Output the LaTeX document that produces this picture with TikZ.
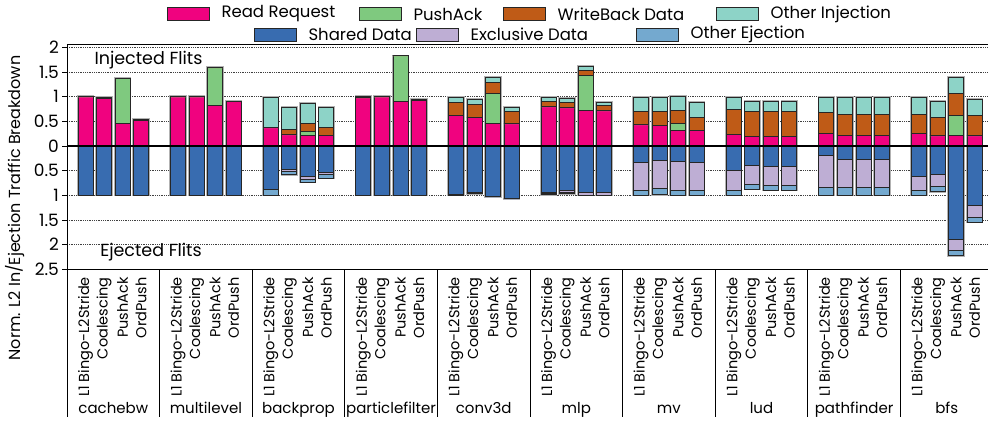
\documentclass[tikz,border=0pt]{standalone}
\usepackage{fontspec}
\setmainfont{Poppins}
\usepackage{tikz}
\usetikzlibrary{positioning}
\usepackage{xcolor}
\definecolor{rrpink}{RGB}{240,2,127}
\definecolor{pagreen}{RGB}{127,201,127}
\definecolor{wborange}{RGB}{191,91,23}
\definecolor{oiteal}{RGB}{141,211,199}
\definecolor{sdblue}{RGB}{56,108,176}
\definecolor{edlilac}{RGB}{190,174,212}
\definecolor{oeblue}{RGB}{116,169,207}
\tikzstyle{bar} = [line width=0.7pt, draw=black!85]
\tikzstyle{halo} = [line width=2.4pt, draw=black!30]
\tikzstyle{gridline} = [densely dotted, line width=0.8pt, color=black!75]
\tikzstyle{legbox} = [rectangle, minimum width=42pt, minimum height=13pt, inner sep=0pt, draw=black!85, line width=0.7pt]
\tikzstyle{legtext} = [inner sep=0pt, anchor=west, font=\fontsize{16.5}{18}\selectfont]
\tikzstyle{ticklabel} = [inner sep=0pt, anchor=east, font=\fontsize{17}{19}\selectfont]
\tikzstyle{barlabel} = [inner sep=0pt, anchor=east, rotate=90, font=\fontsize{14.5}{16}\selectfont]
\tikzstyle{catlabel} = [inner sep=0pt, anchor=base, font=\fontsize{15}{17}\selectfont]

\begin{document}
\begin{tikzpicture}[x=1pt, y=-1pt]
\useasboundingbox (0,0) rectangle (988,422);

% Legend
\node (kRR) [legbox, fill=rrpink] at (188,14) {};
\node (tRR) [legtext, right=12pt of kRR] {Read Request};
\node (kPA) [legbox, fill=pagreen] at (380,14) {};
\node (tPA) [legtext, right=12pt of kPA] {PushAck};
\node (kWB) [legbox, fill=wborange] at (524,14) {};
\node (tWB) [legtext, right=12pt of kWB] {WriteBack Data};
\node (kOI) [legbox, fill=oiteal] at (737,14) {};
\node (tOI) [legtext, right=12pt of kOI] {Other Injection};
\node (kSD) [legbox, fill=sdblue] at (275,34.5) {};
\node (tSD) [legtext, right=12pt of kSD] {Shared Data};
\node (kED) [legbox, fill=edlilac] at (437,34.5) {};
\node (tED) [legtext, right=12pt of kED] {Exclusive Data};
\node (kOE) [legbox, fill=oeblue] at (657,34.5) {};
\node (tOE) [legtext, right=12pt of kOE] {Other Ejection};

% Axis title
\node (ytitle) [inner sep=0pt, rotate=90, font=\fontsize{16}{18}\selectfont] at (15,208) {Norm. L2 In/Ejection Traffic Breakdown};

\begin{scope}[shift={(0,146)}, y=49.3pt]
% Grid and ticks
\foreach \v in {-2,-1.5,-1,-0.5,0.5,1,1.5,2}
  \draw[gridline] (67,\v) -- (994,\v);
\foreach \v/\t in {2/2,1.5/1.5,1/1,0.5/0.5,0/0,-0.5/0.5,-1/1,-1.5/1.5,-2/2,-2.5/2.5} {
  \draw[line width=0.8pt] (62,\v) -- (67,\v);
  \node[ticklabel] at (59,\v) {\t};
}

% Stacked bars: group/bar/cumulative RR/PA/WB/OI up, SD/ED/OE down
\foreach \g/\b/\rr/\pa/\wb/\oi/\sd/\ed/\oe in {
  0/0/1.00/1.00/1.00/1.00/1.00/1.00/1.00, 0/1/0.97/0.97/0.97/0.98/1.00/1.00/1.00,
  0/2/0.46/1.37/1.37/1.38/1.00/1.00/1.00, 0/3/0.53/0.53/0.53/0.54/1.00/1.00/1.00,
  1/0/1.00/1.00/1.00/1.00/1.00/1.00/1.00, 1/1/1.00/1.00/1.00/1.00/1.00/1.00/1.00,
  1/2/0.83/1.59/1.59/1.59/1.00/1.00/1.00, 1/3/0.91/0.91/0.91/0.91/1.00/1.00/1.00,
  2/0/0.37/0.37/0.38/0.99/0.88/0.88/1.00, 2/1/0.23/0.23/0.34/0.78/0.48/0.52/0.58,
  2/2/0.22/0.30/0.45/0.86/0.61/0.67/0.73, 2/3/0.22/0.22/0.37/0.79/0.53/0.58/0.65,
  3/0/0.98/0.98/0.98/1.00/1.00/1.00/1.00, 3/1/1.00/1.00/1.00/1.00/1.00/1.00/1.00,
  3/2/0.91/1.83/1.83/1.83/1.00/1.00/1.00, 3/3/0.93/0.93/0.93/0.95/1.00/1.00/1.00,
  4/0/0.62/0.62/0.89/0.99/0.98/0.98/1.00, 4/1/0.59/0.59/0.84/0.95/0.95/0.95/0.97,
  4/2/0.46/1.07/1.30/1.39/1.03/1.03/1.03, 4/3/0.45/0.45/0.71/0.79/1.07/1.07/1.07,
  5/0/0.80/0.80/0.91/0.99/0.94/0.97/0.99, 5/1/0.78/0.78/0.89/0.96/0.90/0.95/0.97,
  5/2/0.72/1.43/1.53/1.61/0.95/1.00/1.00, 5/3/0.72/0.72/0.82/0.89/0.95/1.00/1.00,
  6/0/0.43/0.43/0.71/0.99/0.33/0.89/1.00, 6/1/0.42/0.42/0.70/0.99/0.29/0.86/0.98,
  6/2/0.31/0.45/0.73/1.01/0.32/0.89/1.00, 6/3/0.32/0.32/0.58/0.88/0.33/0.90/1.00,
  7/0/0.24/0.24/0.74/0.99/0.50/0.90/1.00, 7/1/0.20/0.20/0.70/0.91/0.39/0.78/0.87,
  7/2/0.20/0.20/0.70/0.91/0.41/0.79/0.89, 7/3/0.20/0.20/0.70/0.91/0.41/0.79/0.89,
  8/0/0.26/0.26/0.68/0.99/0.18/0.83/1.00, 8/1/0.22/0.22/0.65/0.99/0.28/0.83/1.00,
  8/2/0.22/0.22/0.65/0.99/0.28/0.83/1.00, 8/3/0.22/0.22/0.65/0.99/0.28/0.83/1.00,
  9/0/0.26/0.26/0.64/0.99/0.62/0.90/1.00, 9/1/0.21/0.21/0.58/0.91/0.58/0.82/0.92,
  9/2/0.21/0.63/1.06/1.39/1.89/2.12/2.22, 9/3/0.21/0.21/0.62/0.95/1.20/1.45/1.54} {
  \pgfmathsetmacro\xl{67+92.6*\g+18.52*(\b+1)-7.5}
  \pgfmathsetmacro\xr{\xl+15}
  \draw[halo] (\xl,\oi) rectangle (\xr,-\oe);
  \draw[bar, fill=rrpink] (\xl,0) rectangle (\xr,\rr);
  \draw[bar, fill=pagreen] (\xl,\rr) rectangle (\xr,\pa);
  \draw[bar, fill=wborange] (\xl,\pa) rectangle (\xr,\wb);
  \draw[bar, fill=oiteal] (\xl,\wb) rectangle (\xr,\oi);
  \draw[bar, fill=sdblue] (\xl,0) rectangle (\xr,-\sd);
  \draw[bar, fill=edlilac] (\xl,-\sd) rectangle (\xr,-\ed);
  \draw[bar, fill=oeblue] (\xl,-\ed) rectangle (\xr,-\oe);
}

% Frame
\draw[line width=1.6pt] (67,0) -- (994,0);
\draw[line width=0.9pt] (67,2.05) -- (994,2.05);
\draw[line width=0.9pt] (67,-2.5) -- (994,-2.5);
\draw[line width=0.9pt] (67,2.05) -- (67,-5.5);
\foreach \k in {1,...,9}
  \draw[line width=0.9pt] (67+92.6*\k,-2.5) -- (67+92.6*\k,-5.5);
\end{scope}

% Region labels
\node (inj) [inner sep=0pt, font=\fontsize{17.5}{19}\selectfont] at (148.5,60) {Injected Flits};
\node (ej) [inner sep=0pt, font=\fontsize{17.5}{19}\selectfont] at (151,252) {Ejected Flits};

% Bar and benchmark labels
\foreach \g/\name in {0/cachebw,1/multilevel,2/backprop,3/particlefilter,4/conv3d,5/mlp,6/mv,7/lud,8/pathfinder,9/bfs} {
  \foreach \b/\lab in {0/L1 Bingo-L2Stride,1/Coalescing,2/PushAck,3/OrdPush}
    \node[barlabel] at ({67+92.6*\g+18.52*(\b+1)},277) {\lab};
  \node[catlabel] at ({67+92.6*\g+46.3},413) {\name};
}
\end{tikzpicture}
\end{document}
